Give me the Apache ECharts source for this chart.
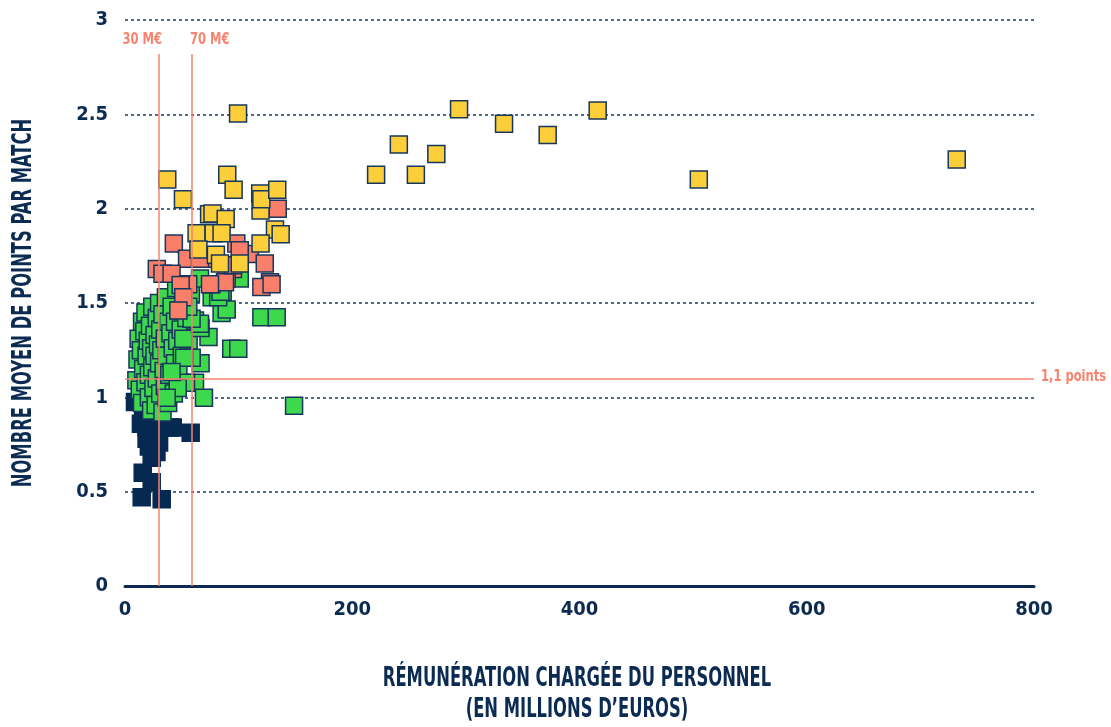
<!DOCTYPE html>
<html>
<head>
<meta charset="utf-8">
<script src="https://cdn.jsdelivr.net/npm/echarts@6/dist/echarts.min.js"></script>
<style>
  html, body { margin: 0; padding: 0; background: #fff; }
  #chart { width: 1111px; height: 727px; }
</style>
</head>
<body>
<div id="chart"></div>
<script>
// rémunération (M€) / points par match, one array per colour group
const navyPts = [
  [8.8, 0.975], [16, 0.90], [14, 0.86], [22, 0.88], [19, 0.84], [19, 0.78], [26, 0.80],
  [33.7, 0.84], [39.6, 0.84], [42, 0.84], [57.8, 0.812], [30, 0.76], [21, 0.74],
  [27.7, 0.71], [23.5, 0.68], [15.6, 0.60], [23.5, 0.55], [14.7, 0.47], [32.3, 0.46]
];
const greenPts = [
  [10, 1.09], [11, 1.2], [12, 1.31], [13, 1.04], [14, 1.25], [15, 1.4], [15, 0.97], [16, 1.15],
  [17, 1.35], [18, 1.08], [18, 1.45], [19, 1.22], [20, 1.3], [21, 1.0], [21, 1.12], [22, 1.38],
  [23, 1.26], [23, 0.93], [24, 1.48], [24, 1.16], [25, 1.05], [26, 1.33], [26, 1.22], [27, 0.96],
  [28, 1.42], [28, 1.1], [29, 1.28], [30, 1.18], [30, 1.5], [31, 1.02], [31, 1.36], [32, 1.25],
  [33, 0.92], [33, 1.44], [34, 1.14], [35, 1.31], [35, 1.06], [36, 1.53], [37, 1.22], [38, 1.4],
  [38, 0.97], [39, 1.12], [40, 1.34], [41, 1.48], [42, 1.26], [43, 1.02], [44, 1.18], [44, 1.4],
  [45, 1.58], [46, 1.3], [47, 1.12], [48, 1.46], [49, 1.36], [50, 1.22], [52, 1.52], [54, 1.42],
  [56, 1.3], [58, 1.55],
  [85, 1.447], [120, 1.425], [133.5, 1.425], [93.5, 1.257], [99.7, 1.257], [73.5, 1.32],
  [66.5, 1.367], [61.6, 1.407], [76.3, 1.53], [86, 1.56], [66.5, 1.18], [58.7, 1.21], [52, 1.21],
  [61.6, 1.077], [53.7, 1.077], [46.4, 1.05], [69.5, 0.998], [36.7, 0.998], [148.8, 0.955],
  [51.3, 1.31], [41, 1.134], [101, 1.63], [66, 1.63], [89.5, 1.465], [66, 1.39], [58.6, 1.417],
  [55.7, 1.48], [82, 1.53], [84, 1.56]
];
const salmonPts = [
  [43, 1.815], [134.4, 2.0], [98, 1.815], [110, 1.76], [54.6, 1.735], [69, 1.735], [123, 1.71],
  [28, 1.68], [33, 1.655], [41, 1.655], [95, 1.68], [89.5, 1.63], [55.7, 1.60], [76, 1.60],
  [127.6, 1.61], [120, 1.585], [49, 1.595], [88, 1.61], [51.3, 1.53], [47, 1.46], [101, 1.78],
  [66, 1.735], [95, 1.70], [129, 1.60], [74.8, 1.60]
];
const yellowPts = [
  [119.3, 1.99],
  [294, 2.527], [241, 2.34], [221, 2.18], [256, 2.18], [274, 2.29], [333.6, 2.45], [372, 2.39],
  [416, 2.52], [505, 2.155], [732, 2.26],
  [99.5, 2.505], [37.2, 2.155], [51, 2.05], [90, 2.18], [95.6, 2.10], [74, 1.97], [77, 1.975],
  [88.6, 1.945], [119, 2.08], [120, 2.05], [134, 2.10], [132, 1.89], [137, 1.865], [63, 1.87],
  [78, 1.87], [85, 1.87], [64.6, 1.784], [80, 1.756], [119.3, 1.815], [83.6, 1.71], [101, 1.71]
];
const xTicks = [0, 800, 200];
const yTicks = [0, 3, 0.5];
const refX = [[30, '30 M€'], [59, '70 M€']];
const refY = [1.1, '1,1 points'];

const navy = '#0B2B53';
const salmon = '#F7836E';
const font = "'Liberation Sans Narrow', 'DejaVu Sans Condensed', sans-serif";

function squares(name, data, color, border) {
  return {
    name: name,
    type: 'scatter',
    z: 3,
    symbol: 'rect',
    symbolSize: 17,
    data: data,
    itemStyle: {
      color: color,
      borderColor: border,
      borderWidth: 1.5,
      opacity: 1
    }
  };
}

const myChart = echarts.init(document.getElementById('chart'));
myChart.setOption({
  animation: false,
  grid: { left: 125, right: 77, top: 20, bottom: 141 },
  xAxis: {
    type: 'value',
    min: xTicks[0], max: xTicks[1], interval: xTicks[2],
    axisLine: { lineStyle: { color: navy, width: 3 } },
    axisTick: { show: false },
    splitLine: { show: false },
    axisLabel: { margin: 14, fontSize: 20, fontWeight: 'bold', fontFamily: font, color: navy }
  },
  yAxis: {
    type: 'value',
    min: yTicks[0], max: yTicks[1], interval: yTicks[2],
    axisLine: { show: false },
    axisTick: { show: false },
    splitLine: { lineStyle: { color: '#1E3A60', width: 1.5, type: [3, 3] } },
    axisLabel: { margin: 17, fontSize: 20, fontWeight: 'bold', fontFamily: font, color: navy }
  },
  series: [
    {
      type: 'scatter',
      z: 1,
      data: [],
      markLine: {
        silent: true,
        symbol: 'none',
        lineStyle: { type: 'solid', color: salmon, width: 1.5 },
        label: { show: false },
        data: [
          [{ coord: [refX[0][0], 0] }, { coord: [refX[0][0], 2.82] }],
          [{ coord: [refX[1][0], 0] }, { coord: [refX[1][0], 2.82] }],
          [{ coord: [0, refY[0]] }, { coord: [800, refY[0]] }]
        ]
      }
    },
    squares('moins de 30', navyPts, '#062952', '#062952'),
    squares('30-70', greenPts, '#3DD84B', '#17365C'),
    squares('70+', salmonPts, '#F97F6B', '#17365C'),
    squares('top', yellowPts, '#FBCE3A', '#17365C')
  ]
});

// annotation texts placed from the chart's own scales
const p30 = myChart.convertToPixel({ gridIndex: 0 }, [refX[0][0], 2.82]);
const p70 = myChart.convertToPixel({ gridIndex: 0 }, [refX[1][0], 2.82]);
const p11 = myChart.convertToPixel({ gridIndex: 0 }, [800, refY[0]]);
function note(text, x, y, align) {
  return {
    type: 'text', x: x, y: y, scaleX: 0.8,
    style: {
      text: text, fill: salmon, font: 'bold 16px ' + font,
      textAlign: align, textVerticalAlign: 'middle'
    }
  };
}
myChart.setOption({
  graphic: [
    note(refX[0][1], p30[0] + 3, p30[1] - 14, 'right'),
    note(refX[1][1], p70[0] - 2, p70[1] - 14, 'left'),
    note(refY[1], p11[0] + 7, p11[1] - 2, 'left'),
    {
      type: 'text',
      x: 577, y: 695,
      scaleX: 0.7,
      style: {
        text: 'RÉMUNÉRATION CHARGÉE DU PERSONNEL\n(EN MILLIONS D’EUROS)',
        fill: navy,
        font: 'bold 26px ' + font,
        lineHeight: 31,
        textAlign: 'center',
        textVerticalAlign: 'middle'
      }
    },
    {
      type: 'text',
      x: 24, y: 303,
      rotation: Math.PI / 2,
      scaleX: 0.7,
      style: {
        text: 'NOMBRE MOYEN DE POINTS PAR MATCH',
        fill: navy,
        font: 'bold 26px ' + font,
        textAlign: 'center',
        textVerticalAlign: 'middle'
      }
    }
  ]
});
</script>
</body>
</html>
